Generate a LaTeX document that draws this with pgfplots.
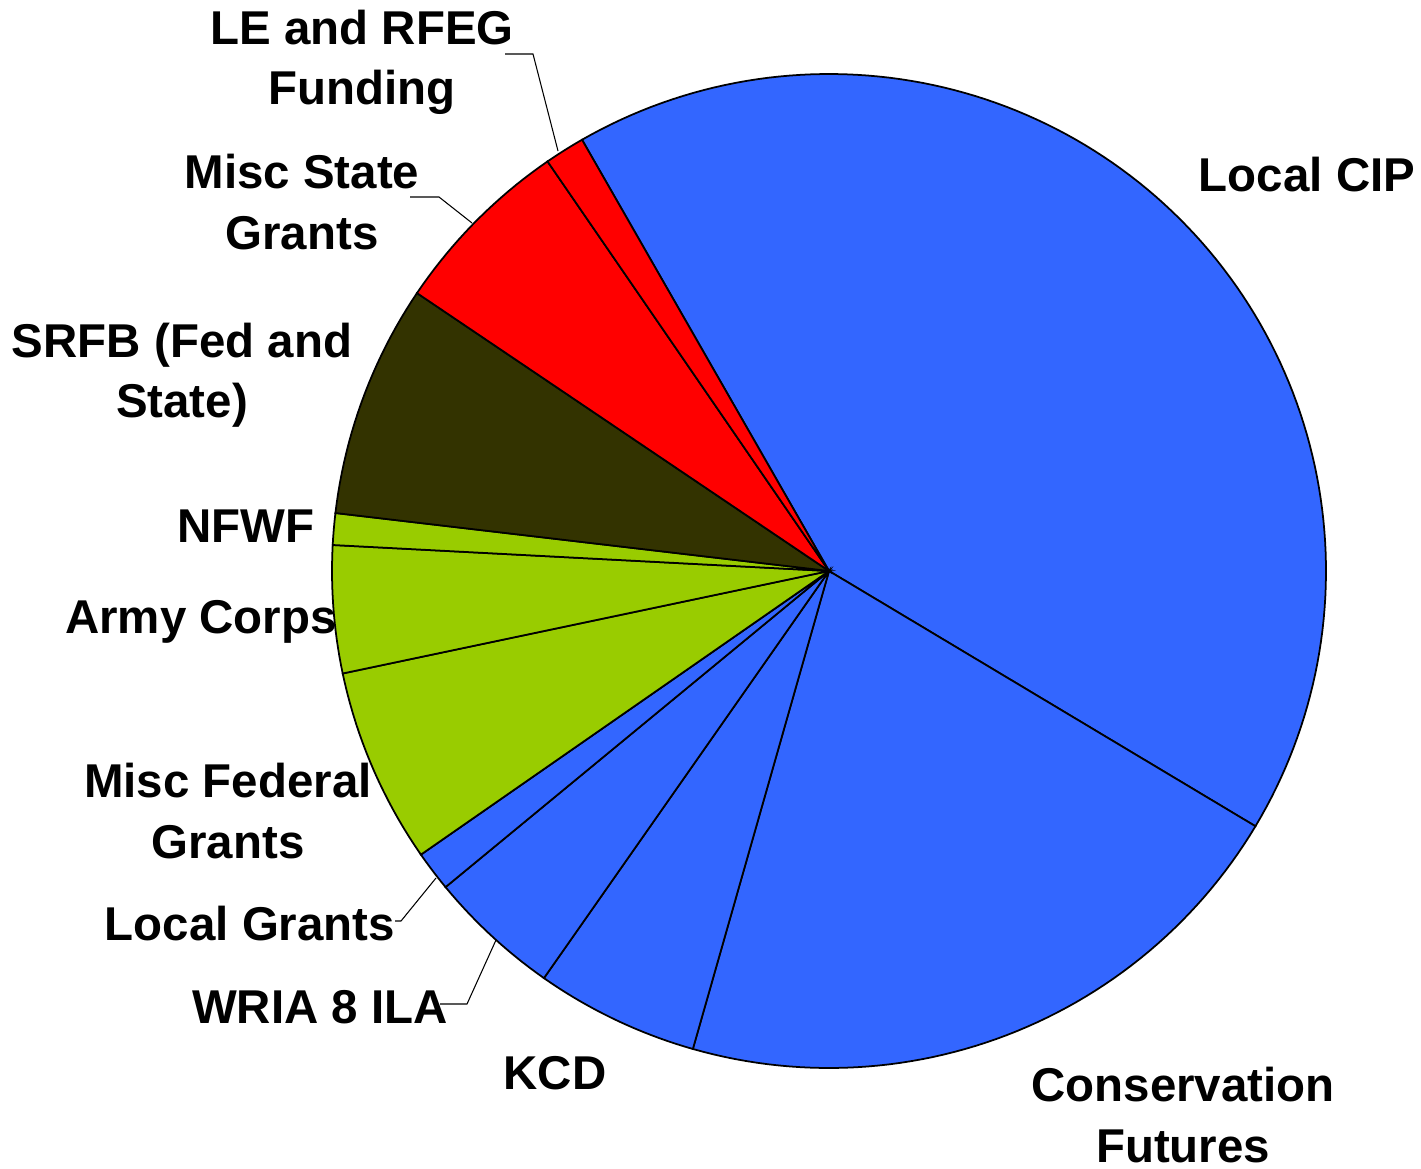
\documentclass[border=0pt]{standalone}
\usepackage{fontspec}
\setmainfont{Liberation Sans}
\usepackage{pgfplots}
\pgfplotsset{compat=1.18}
\definecolor{cipblue}{HTML}{3366FF}
\definecolor{stred}{HTML}{FF0000}
\definecolor{olive}{HTML}{333300}
\definecolor{fedgreen}{HTML}{99CC00}
\newcommand{\cx}{829}
\newcommand{\cy}{597}
\newcommand{\rr}{497}
\tikzset{lbl/.style={font=\fontsize{13.5}{17.1}\selectfont\bfseries, align=center, inner sep=0pt}}
\begin{document}
\begin{tikzpicture}
\begin{axis}[hide axis, scale only axis, width=14.21cm, height=11.68cm,
  xmin=0, xmax=1421, ymin=0, ymax=1168, clip=false]
\path (rel axis cs:0,0) rectangle (rel axis cs:1,1);
% slices: start angle, end angle (degrees, counterclockwise from east)
% Local CIP
\addplot[fill=cipblue, draw=black, line width=0.5pt, domain=-30.9:119.8, samples=120, variable=\t] ({\cx+\rr*cos(\t)},{\cy+\rr*sin(\t)}) -- (axis cs:\cx,\cy) -- cycle;
% Conservation Futures
\addplot[fill=cipblue, draw=black, line width=0.5pt, domain=-105.9:-30.9, samples=60, variable=\t] ({\cx+\rr*cos(\t)},{\cy+\rr*sin(\t)}) -- (axis cs:\cx,\cy) -- cycle;
% KCD
\addplot[fill=cipblue, draw=black, line width=0.5pt, domain=-125.0:-105.9, samples=20, variable=\t] ({\cx+\rr*cos(\t)},{\cy+\rr*sin(\t)}) -- (axis cs:\cx,\cy) -- cycle;
% WRIA 8 ILA
\addplot[fill=cipblue, draw=black, line width=0.5pt, domain=-140.5:-125.0, samples=16, variable=\t] ({\cx+\rr*cos(\t)},{\cy+\rr*sin(\t)}) -- (axis cs:\cx,\cy) -- cycle;
% Local Grants
\addplot[fill=cipblue, draw=black, line width=0.5pt, domain=-145.2:-140.5, samples=6, variable=\t] ({\cx+\rr*cos(\t)},{\cy+\rr*sin(\t)}) -- (axis cs:\cx,\cy) -- cycle;
% Misc Federal Grants
\addplot[fill=fedgreen, draw=black, line width=0.5pt, domain=-168.1:-145.2, samples=20, variable=\t] ({\cx+\rr*cos(\t)},{\cy+\rr*sin(\t)}) -- (axis cs:\cx,\cy) -- cycle;
% Army Corps
\addplot[fill=fedgreen, draw=black, line width=0.5pt, domain=-183.0:-168.1, samples=16, variable=\t] ({\cx+\rr*cos(\t)},{\cy+\rr*sin(\t)}) -- (axis cs:\cx,\cy) -- cycle;
% NFWF
\addplot[fill=fedgreen, draw=black, line width=0.5pt, domain=-186.7:-183.0, samples=5, variable=\t] ({\cx+\rr*cos(\t)},{\cy+\rr*sin(\t)}) -- (axis cs:\cx,\cy) -- cycle;
% SRFB
\addplot[fill=olive, draw=black, line width=0.5pt, domain=-214.0:-186.7, samples=24, variable=\t] ({\cx+\rr*cos(\t)},{\cy+\rr*sin(\t)}) -- (axis cs:\cx,\cy) -- cycle;
% Misc State Grants
\addplot[fill=stred, draw=black, line width=0.5pt, domain=-235.5:-214.0, samples=20, variable=\t] ({\cx+\rr*cos(\t)},{\cy+\rr*sin(\t)}) -- (axis cs:\cx,\cy) -- cycle;
% LE and RFEG Funding
\addplot[fill=stred, draw=black, line width=0.5pt, domain=-240.2:-235.5, samples=6, variable=\t] ({\cx+\rr*cos(\t)},{\cy+\rr*sin(\t)}) -- (axis cs:\cx,\cy) -- cycle;
% leader lines
\addplot[black, line width=0.3pt] coordinates {(505,1114) (533,1114) (558,1017)};
\addplot[black, line width=0.3pt] coordinates {(410,971) (439,971) (472,945)};
\addplot[black, line width=0.3pt] coordinates {(395,247) (401,247) (436,290)};
\addplot[black, line width=0.3pt] coordinates {(440,164) (467,164) (496,228)};
% labels
\node[lbl] at (axis cs:1307,993) {Local CIP};
\node[lbl] at (axis cs:1183,53) {Conservation\\Futures};
\node[lbl] at (axis cs:555,95) {KCD};
\node[lbl] at (axis cs:320,161) {WRIA 8 ILA};
\node[lbl] at (axis cs:250,244) {Local Grants};
\node[lbl] at (axis cs:228,357) {Misc Federal\\Grants};
\node[lbl] at (axis cs:201,546) {Army Corps};
\node[lbl] at (axis cs:246,642) {NFWF};
\node[lbl] at (axis cs:182,793) {SRFB (Fed and\\State)};
\node[lbl] at (axis cs:302,966) {Misc State\\Grants};
\node[lbl] at (axis cs:362,1106) {LE and RFEG\\Funding};
\end{axis}
\end{tikzpicture}
\end{document}
